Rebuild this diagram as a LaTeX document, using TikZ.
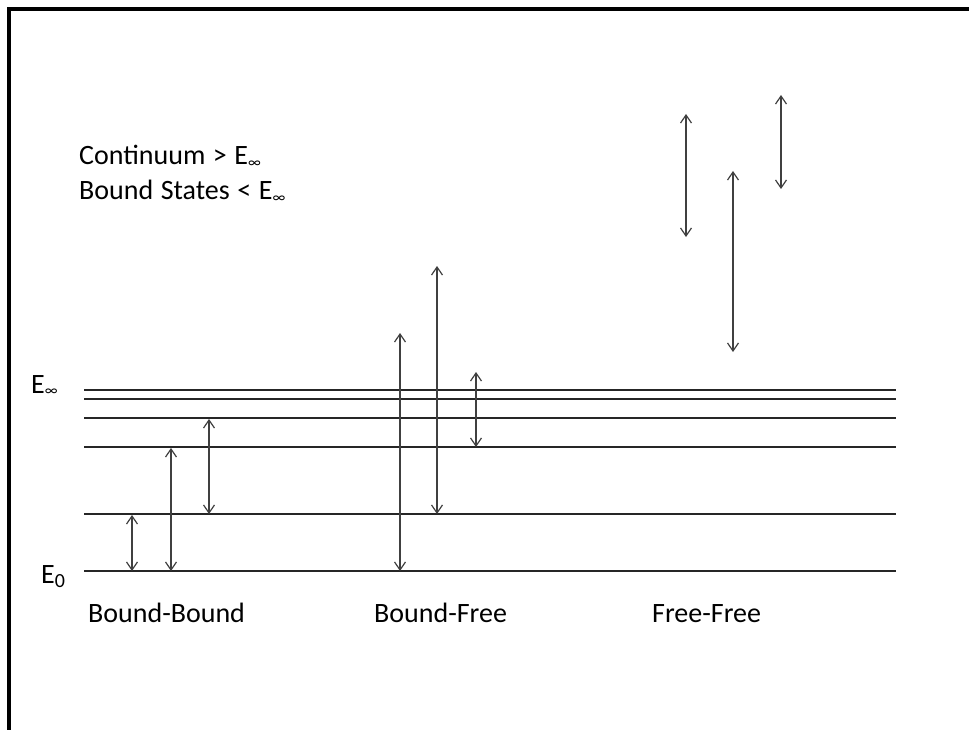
\documentclass[tikz,border=0pt]{standalone}
\usepackage{fontspec}
\setmainfont{Carlito}
\usetikzlibrary{arrows.meta}
\newcommand{\Einf}{E\raisebox{-0.15ex}{\fontsize{15}{15}\selectfont ∞}}
\newcommand{\notefont}{\fontsize{28}{30}\selectfont\spaceskip=0.27em\relax}
\begin{document}
\begin{tikzpicture}[x=1pt,y=-1pt,
  frame/.style={line width=3.5pt, black},
  level/.style={line width=1.3pt, black!85},
  trans/.style={line width=1.2pt, black!75,
    {Straight Barb[length=8pt,width=11pt]}-{Straight Barb[length=8pt,width=11pt]}},
  note/.style={inner sep=0pt, anchor=base west, font=\notefont},
  lbl/.style={inner sep=0pt, anchor=base west, font=\fontsize{28}{32}\selectfont}]
\useasboundingbox (0,0) rectangle (969,730);
\draw[frame] (9,730) -- (9,9) -- (969,9);
% energy levels
\foreach \n/\y in {a/390,b/399,c/418,d/447,e/514,f/571}{
  \coordinate (\n L) at (84,\y);
  \coordinate (\n R) at (896,\y);
  \draw[level] (\n L) -- (\n R);
}
% level labels
\node[lbl] (einf) at (31,393) {\Einf};
\node[lbl] (ezero) at (41,583) {E\raisebox{-0.3ex}{\fontsize{20}{20}\selectfont 0}};
% notes
\node[note] (cont) at (79,165) {Continuum > \Einf};
\node[note] (bound) at (79,200) {Bound States < \Einf};
% category labels
\node[lbl] (bb) at (88,622) {Bound-Bound};
\node[lbl] (bf) at (374,622) {Bound-Free};
\node[lbl] (ff) at (652,622) {Free-Free};
% transitions
\coordinate (t1a) at (132,515); \coordinate (t1b) at (132,571);
\coordinate (t2a) at (171,448); \coordinate (t2b) at (171,571);
\coordinate (t3a) at (209,419); \coordinate (t3b) at (209,514);
\coordinate (t4a) at (400,333); \coordinate (t4b) at (400,571);
\coordinate (t5a) at (437,266); \coordinate (t5b) at (437,514);
\coordinate (t6a) at (476,372); \coordinate (t6b) at (476,447);
\coordinate (t7a) at (686,114); \coordinate (t7b) at (686,237);
\coordinate (t8a) at (733,171); \coordinate (t8b) at (733,352);
\coordinate (t9a) at (781,95);  \coordinate (t9b) at (781,189);
\foreach \i in {1,...,9}{\draw[trans] (t\i a) -- (t\i b);}
\end{tikzpicture}
\end{document}
